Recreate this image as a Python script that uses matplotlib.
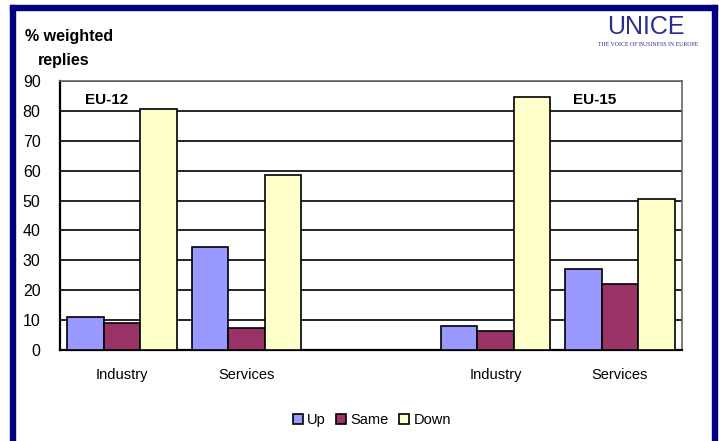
import matplotlib
matplotlib.use("Agg")
import matplotlib.pyplot as plt
from matplotlib.patches import Rectangle
import numpy as np

plt.rcParams['font.family'] = ['Liberation Sans', 'DejaVu Sans']

categories = ["Industry", "Services", "", "Industry", "Services"]
up = [11, 34.5, np.nan, 8, 27]
same = [9, 7.5, np.nan, 6.5, 22]
down = [80.5, 58.5, np.nan, 84.5, 50.5]
series_names = ["Up", "Same", "Down"]
colors = ["#9999FF", "#993366", "#FFFFCC"]
yticks = [0, 10, 20, 30, 40, 50, 60, 70, 80, 90]

W, H = 719, 441
fig = plt.figure(figsize=(W / 100, H / 100), dpi=100)

# navy frame (top, left, right)
navy = "#000080"
fig.patches.append(Rectangle((10 / W, 0), 5 / W, (H - 5) / H, transform=fig.transFigure, color=navy, zorder=0))
fig.patches.append(Rectangle((712 / W, 0), 5 / W, (H - 5) / H, transform=fig.transFigure, color=navy, zorder=0))
fig.patches.append(Rectangle((10 / W, (H - 10) / H), 707 / W, 5 / H, transform=fig.transFigure, color=navy, zorder=0))

ax = fig.add_axes([60 / W, 1 - 350 / H, 622 / W, 269 / H])
x = np.arange(len(categories))
bw = 0.294
for i, (vals, name, c) in enumerate(zip([up, same, down], series_names, colors)):
    ax.bar(x + (i - 1) * bw, vals, width=bw, color=c, edgecolor="black", linewidth=1.2, label=name, zorder=3)

ax.set_xlim(-0.5, len(categories) - 0.5)
ax.set_ylim(0, 90)
ax.set_yticks(yticks)
ax.set_xticks(x)
ax.set_xticklabels(categories, fontsize=10.5)
ax.tick_params(axis='x', length=0, pad=13)
ax.tick_params(axis='y', length=0, pad=14, labelsize=11.5)
ax.yaxis.grid(True, color="black", linewidth=1.2, zorder=0)
ax.set_axisbelow(True)
for s in ["left", "bottom"]:
    ax.spines[s].set_linewidth(1.6)
    ax.spines[s].set_color("black")
for s in ["top", "right"]:
    ax.spines[s].set_linewidth(1.2)
    ax.spines[s].set_color("#666666")

ax.text(0.04, 0.955, "EU-12", transform=ax.transAxes, fontsize=11, fontweight="bold", va="top")
ax.text(0.825, 0.955, "EU-15", transform=ax.transAxes, fontsize=11, fontweight="bold", va="top")

fig.text(25 / W, 1 - 37 / H, "% weighted", fontsize=11.5, fontweight="bold", va="center")
fig.text(38 / W, 1 - 60 / H, "replies", fontsize=11.5, fontweight="bold", va="center")

fig.text(646 / W, 1 - 27 / H, "UNICE", fontsize=18, color="#2A2F8F", ha="center", va="center")
fig.text(648 / W, 1 - 44 / H, "THE VOICE OF BUSINESS IN EUROPE", fontsize=4.2, color="#2A2F8F",
         ha="center", va="center", family=["Liberation Serif", "DejaVu Serif"])

leg = fig.legend(loc="center", bbox_to_anchor=(372 / W, 1 - 420 / H), ncol=3, frameon=False,
                 fontsize=10.5, handlelength=0.7, handleheight=0.7, handletextpad=0.3, columnspacing=0.7)

fig.savefig("out.png", dpi=100)
